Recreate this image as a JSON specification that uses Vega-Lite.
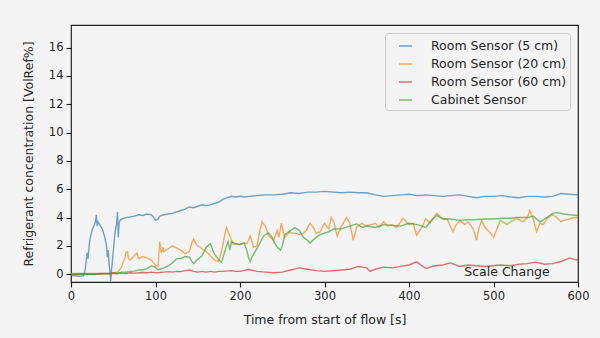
{
"$schema": "https://vega.github.io/schema/vega-lite/v6.json",
"width": 507, "height": 257,
"autosize": {"type": "none"},
"padding": {"left": 71, "top": 25, "right": 22, "bottom": 56},
"background": "#f4f4f4",
"config": {
  "font": "DejaVu Sans",
  "view": {"stroke": "#222222", "strokeWidth": 1.2, "fill": "#f4f4f4"},
  "axis": {"domain": false, "grid": false, "tickColor": "#222222", "tickSize": 5, "tickWidth": 1.1, "labelFontSize": 11.5, "labelColor": "#262626", "titleFontSize": 12.5, "titleFontWeight": "normal", "titleColor": "#262626", "labelPadding": 3, "labelOverlap": false, "labelFlush": false}
},
"encoding": {
  "x": {"field": "t", "type": "quantitative", "scale": {"domain": [0, 600], "nice": false, "zero": false}, "axis": {"values": [0, 100, 200, 300, 400, 500, 600], "title": "Time from start of flow [s]", "titlePadding": 12}},
  "y": {"field": "v", "type": "quantitative", "scale": {"domain": [-0.55, 17.6], "nice": false, "zero": false}, "axis": {"values": [0, 2, 4, 6, 8, 10, 12, 14, 16], "title": "Refrigerant concentration [VolRef%]", "titlePadding": 13}}
},
"layer": [
{
"data": {"values": [
{"t":0,"a":-0.1,"b":0.05,"c":0.0,"d":-0.05},
{"t":5,"a":-0.12,"b":0.05,"c":0.02,"d":-0.04},
{"t":10,"a":-0.15,"b":0.08,"c":0.0,"d":-0.02},
{"t":15,"a":-0.1,"b":0.05,"c":0.03,"d":0.0},
{"t":17,"a":0.4},
{"t":19,"a":1.5},
{"t":20,"a":1.1,"b":0.05,"c":0.02,"d":0.0},
{"t":22,"a":2.3},
{"t":24,"a":2.9},
{"t":25,"a":3.1,"b":0.06,"c":0.0,"d":0.02},
{"t":27,"a":3.4},
{"t":29,"a":3.7},
{"t":30,"a":4.2,"b":0.05,"c":0.03,"d":0.0},
{"t":31,"a":3.4},
{"t":32,"a":3.7},
{"t":34,"a":3.5},
{"t":35,"a":3.4,"b":0.07,"c":0.02,"d":0.03},
{"t":37,"a":3.2},
{"t":39,"a":2.8},
{"t":40,"a":2.6,"b":0.05,"c":0.04,"d":0.05},
{"t":42,"a":2.0},
{"t":43,"a":1.2},
{"t":44,"a":1.7},
{"t":45,"a":0.8,"b":0.08,"c":0.03,"d":0.05},
{"t":46,"a":0.2},
{"t":47,"a":-0.5},
{"t":48,"a":0.3},
{"t":50,"a":1.6,"b":0.1,"c":0.05,"d":0.1},
{"t":52,"a":2.9},
{"t":54,"a":3.6},
{"t":55,"a":4.4,"b":0.15,"c":0.05,"d":0.05},
{"t":56,"a":2.6},
{"t":57,"a":3.6},
{"t":58,"a":3.8},
{"t":60,"a":3.9,"b":0.5,"c":0.08,"d":0.15},
{"t":62,"b":0.9},
{"t":64,"b":1.2},
{"t":65,"a":4.0,"b":1.5,"c":0.05,"d":0.15},
{"t":67,"b":1.6},
{"t":68,"b":1.1},
{"t":70,"a":4.05,"b":1.0,"c":0.1,"d":0.2},
{"t":75,"a":4.1,"b":1.3,"c":0.08,"d":0.22},
{"t":78,"b":1.5},
{"t":80,"a":4.2,"b":1.1,"c":0.1,"d":0.3},
{"t":85,"a":4.15,"b":1.25,"c":0.12,"d":0.3},
{"t":90,"a":4.25,"b":1.15,"c":0.1,"d":0.4},
{"t":95,"a":4.2,"b":1.0,"c":0.15,"d":0.6},
{"t":98,"a":4.0,"b":0.8},
{"t":100,"a":3.8,"b":0.6,"c":0.1,"d":0.5},
{"t":103,"a":3.9,"b":0.55,"d":0.3},
{"t":105,"a":4.1,"b":2.3,"c":0.12,"d":0.35},
{"t":107,"b":1.5},
{"t":109,"b":1.9},
{"t":110,"a":4.2,"b":1.6,"c":0.15,"d":0.45},
{"t":115,"a":4.25,"b":1.8,"c":0.18,"d":0.6},
{"t":120,"a":4.3,"b":2.0,"c":0.15,"d":0.8},
{"t":125,"a":4.4,"b":1.85,"c":0.2,"d":1.1},
{"t":130,"a":4.5,"b":1.7,"c":0.18,"d":1.1},
{"t":135,"a":4.6,"b":1.45,"c":0.25,"d":1.25},
{"t":140,"a":4.75,"b":1.6,"c":0.3,"d":1.2},
{"t":143,"b":2.2,"d":0.9},
{"t":145,"a":4.7,"b":2.5,"c":0.2,"d":0.75},
{"t":149,"b":2.05,"d":1.0},
{"t":150,"a":4.8,"b":2.0,"c":0.15,"d":1.05},
{"t":155,"a":4.9,"b":1.8,"c":0.2,"d":1.3},
{"t":160,"a":4.85,"b":1.6,"c":0.15,"d":1.9},
{"t":165,"a":4.9,"b":1.3,"c":0.2,"d":2.15},
{"t":168,"b":1.1,"d":1.65},
{"t":170,"a":5.0,"b":1.0,"c":0.15,"d":1.4},
{"t":174,"b":0.9,"d":1.1},
{"t":175,"a":5.1,"b":0.95,"c":0.2,"d":1.0},
{"t":178,"b":1.6,"d":0.85},
{"t":180,"a":5.3,"b":2.15,"c":0.2,"d":1.2},
{"t":182,"b":2.8,"d":1.6},
{"t":184,"b":3.3,"d":2.0},
{"t":186,"d":2.3},
{"t":188,"b":2.7,"d":1.7},
{"t":190,"a":5.5,"b":2.4,"c":0.25,"d":2.3},
{"t":192,"b":2.1},
{"t":195,"a":5.45,"b":2.15,"c":0.2,"d":2.15},
{"t":200,"a":5.5,"b":2.1,"c":0.2,"d":2.1},
{"t":205,"a":5.45,"b":2.2,"c":0.25,"d":2.2},
{"t":208,"b":2.15,"d":1.7},
{"t":210,"a":5.5,"b":2.4,"c":0.35,"d":1.2},
{"t":212,"b":2.7,"d":0.9},
{"t":214,"d":1.2},
{"t":216,"b":1.9},
{"t":220,"a":5.55,"b":2.0,"c":0.2,"d":1.8},
{"t":224,"b":3.2},
{"t":226,"b":3.7},
{"t":228,"d":2.7},
{"t":230,"a":5.6,"b":3.4,"c":0.15,"d":2.8},
{"t":234,"b":2.7,"d":2.9},
{"t":238,"d":2.6},
{"t":240,"a":5.6,"b":2.4,"c":0.1,"d":2.3},
{"t":244,"b":3.1,"d":1.9},
{"t":246,"b":2.6},
{"t":248,"d":1.7},
{"t":249,"b":3.6},
{"t":250,"a":5.65,"b":3.3,"c":0.15,"d":2.0},
{"t":253,"b":2.6,"d":2.8},
{"t":259,"b":3.0},
{"t":260,"a":5.75,"b":2.9,"c":0.3,"d":3.1},
{"t":265,"b":2.9,"d":3.3},
{"t":270,"a":5.7,"b":2.8,"c":0.45,"d":3.1},
{"t":275,"b":2.9,"d":2.6},
{"t":279,"b":3.1},
{"t":280,"a":5.8,"b":3.3,"c":0.35,"d":2.4},
{"t":283,"b":3.6,"d":2.2},
{"t":288,"b":3.2},
{"t":290,"a":5.8,"b":2.9,"c":0.25,"d":2.6},
{"t":295,"b":3.0,"d":2.8},
{"t":300,"a":5.85,"b":3.6,"c":0.2,"d":2.9},
{"t":305,"b":3.2,"d":3.0},
{"t":308,"b":4.0},
{"t":311,"b":3.7,"d":3.2},
{"t":315,"b":2.7},
{"t":318,"b":3.1},
{"t":320,"a":5.75,"b":3.4,"c":0.3,"d":3.2},
{"t":326,"b":4.0},
{"t":330,"a":5.8,"b":3.6,"c":0.35,"d":3.4},
{"t":334,"b":2.4},
{"t":338,"b":3.3,"d":3.55},
{"t":340,"a":5.75,"c":0.55},
{"t":344,"b":3.6},
{"t":345,"d":3.3},
{"t":350,"a":5.75,"b":3.4,"c":0.45,"d":3.4},
{"t":354,"c":0.2},
{"t":355,"b":3.5},
{"t":360,"a":5.6,"b":3.6,"c":0.35,"d":3.3},
{"t":365,"b":3.3},
{"t":370,"a":5.5,"b":3.7,"c":0.5,"d":3.5},
{"t":375,"b":3.4},
{"t":380,"a":5.55,"b":3.5,"c":0.45,"d":3.45},
{"t":385,"b":3.3},
{"t":390,"a":5.6,"b":3.7,"c":0.55,"d":3.4},
{"t":393,"b":3.95},
{"t":400,"a":5.65,"b":3.5,"c":0.65,"d":3.6},
{"t":405,"b":3.6},
{"t":409,"b":2.75,"c":0.87},
{"t":410,"a":5.55,"d":3.5},
{"t":415,"b":3.3},
{"t":420,"a":5.6,"b":3.9,"c":0.4,"d":3.3},
{"t":425,"b":3.6,"d":3.7},
{"t":430,"a":5.55,"b":4.1,"c":0.6,"d":4.0},
{"t":433,"b":4.3,"d":4.15},
{"t":440,"a":5.5,"b":3.9,"c":0.65,"d":3.9},
{"t":445,"b":3.9},
{"t":449,"c":0.8,"d":3.9},
{"t":452,"b":3.0},
{"t":455,"b":3.4},
{"t":460,"a":5.6,"b":3.8,"c":0.55,"d":3.8},
{"t":466,"b":3.5},
{"t":470,"a":5.5,"b":3.7,"c":0.65,"d":3.85},
{"t":476,"b":3.2,"d":3.85},
{"t":480,"a":5.4,"b":2.4,"c":0.6},
{"t":483,"b":3.3},
{"t":486,"b":3.8},
{"t":490,"a":5.5,"b":3.3,"c":0.55,"d":3.9},
{"t":495,"b":3.0},
{"t":500,"a":5.5,"b":2.6,"c":0.6,"d":3.9},
{"t":504,"b":3.2},
{"t":508,"b":3.8,"c":0.65},
{"t":510,"a":5.55,"d":3.95},
{"t":516,"b":3.5},
{"t":520,"a":5.45,"b":3.7,"c":0.6,"d":3.95},
{"t":527,"b":3.95,"d":4.0},
{"t":530,"a":5.4,"c":0.7},
{"t":535,"b":3.7},
{"t":540,"a":5.5,"b":4.0,"c":0.75,"d":4.0},
{"t":543,"b":4.5},
{"t":547,"b":3.9,"d":4.1},
{"t":550,"a":5.5,"c":0.85},
{"t":551,"b":3.0},
{"t":555,"b":3.6,"d":3.7},
{"t":559,"b":3.5},
{"t":560,"a":5.45,"c":0.7},
{"t":563,"b":3.9,"d":4.0},
{"t":570,"a":5.5,"b":4.2,"c":0.75,"d":4.3},
{"t":575,"b":4.0,"d":4.35},
{"t":580,"a":5.7,"b":3.7,"c":0.9},
{"t":583,"b":3.8,"d":4.25},
{"t":590,"a":5.65,"b":3.9,"c":1.15,"d":4.2},
{"t":595,"b":4.0,"c":1.05},
{"t":600,"a":5.6,"b":4.0,"c":1.0,"d":4.15}
]},
"transform": [
  {"fold": ["a", "b", "c", "d"], "as": ["k", "v"]},
  {"filter": "isValid(datum.v)"}
],
"mark": {"type": "line", "strokeWidth": 1.4, "opacity": 0.65, "clip": true},
"encoding": {
  "color": {"field": "k", "type": "nominal", "scale": {"domain": ["a", "b", "c", "d"], "range": ["#1f77b4", "#ff7f0e", "#d62728", "#2ca02c"]},
    "legend": {"title": null, "orient": "top-right", "offset": 8, "labelExpr": "datum.label == 'a' ? 'Room Sensor (5 cm)' : datum.label == 'b' ? 'Room Sensor (20 cm)' : datum.label == 'c' ? 'Room Sensor (60 cm)' : 'Cabinet Sensor'", "labelFontSize": 12.5, "labelColor": "#262626", "symbolType": "M-0.72,0H0.72", "symbolSize": 324, "symbolStrokeWidth": 1.5, "symbolOpacity": 0.65, "symbolOffset": 7.5, "labelOffset": 15.5, "rowPadding": 1, "padding": 3, "fillColor": "#f4f4f4", "strokeColor": "#cccccc", "cornerRadius": 3}}
}
},
{
"data": {"values": [{"t": 516, "v": 0.14, "label": "Scale Change"}]},
"mark": {"type": "text", "fontSize": 12.5, "align": "center", "baseline": "middle", "color": "#262626"},
"encoding": {
  "text": {"field": "label", "type": "nominal"}
}
}
]
}
